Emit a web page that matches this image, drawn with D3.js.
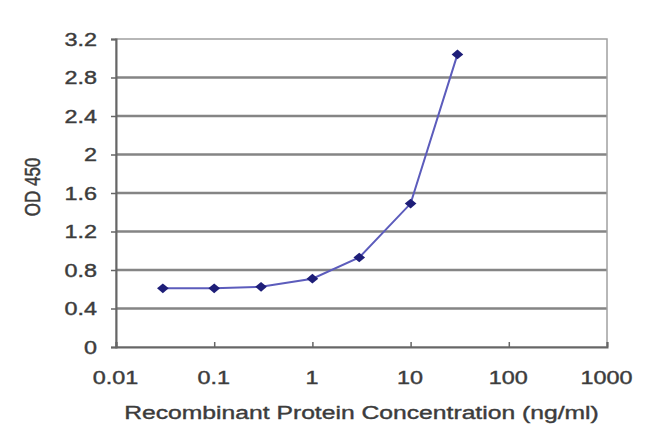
<!DOCTYPE html>
<html><head><meta charset="utf-8">
<script src="https://cdn.jsdelivr.net/npm/d3@7"></script>
<style>body{margin:0;background:#fff}svg{display:block}text{stroke:#3c3c3c;stroke-width:0.4px}</style>
</head><body><svg id="c" width="650" height="439"></svg>
<script>
const concentrations = [0.03, 0.1, 0.3, 1, 3, 10, 30];
const od450 = [0.61, 0.61, 0.625, 0.71, 0.93, 1.49, 3.04];
const yTicks = [0, 0.4, 0.8, 1.2, 1.6, 2, 2.4, 2.8, 3.2];
const xTicks = [0.01, 0.1, 1, 10, 100, 1000];
const xTitle = "Recombinant Protein Concentration (ng/ml)";
const yTitle = "OD 450";

const svg = d3.select("#c");
const L = 116, R = 607, T = 39, B = 347;
const SX = 1.3; // horizontal stretch seen in the reference text
const x = d3.scaleLog().domain([0.01, 1000]).range([L, R]);
const y = d3.scaleLinear().domain([0, 3.2]).range([B, T]);
const font = "Arial, 'Liberation Sans', sans-serif";
const txt = "#3c3c3c";

// gridlines
svg.append("g").selectAll("line").data(yTicks.filter(d => d > 0 && d < 3.2)).join("line")
  .attr("x1", L).attr("x2", R).attr("y1", d => y(d)).attr("y2", d => y(d))
  .attr("stroke", "#858585").attr("stroke-width", 2.5);

// plot border
svg.append("rect").attr("x", L).attr("y", T).attr("width", R - L).attr("height", B - T)
  .attr("fill", "none").attr("stroke", "#a0a0a0").attr("stroke-width", 1.5);

// axes
const yAxis = d3.axisLeft(y).tickValues(yTicks).tickSize(5).tickFormat(d3.format("~g"));
const gy = svg.append("g").attr("transform", `translate(${L},0)`).call(yAxis);
gy.select(".domain").attr("stroke", "#666").attr("stroke-width", 2);
gy.selectAll(".tick line").attr("stroke", "#666").attr("stroke-width", 1.5);
gy.selectAll(".tick text").attr("x", 0).attr("dy", "0.36em")
  .attr("transform", `translate(-19,0) scale(${SX},1)`).attr("fill", txt)
  .style("font-family", font).style("font-size", "18px");

const xAxis = d3.axisBottom(x).tickValues(xTicks).tickSize(-5).tickFormat(d => String(d));
const gx = svg.append("g").attr("transform", `translate(0,${B})`).call(xAxis);
gx.select(".domain").attr("stroke", "#666").attr("stroke-width", 2);
gx.selectAll(".tick line").attr("stroke", "#666").attr("stroke-width", 1.5);
gx.selectAll(".tick text").attr("y", 0).attr("dy", 0)
  .attr("transform", `translate(-1,37) scale(${SX},1)`).attr("fill", txt)
  .style("font-family", font).style("font-size", "18px");

// line
const pts = concentrations.map((c, i) => [c, od450[i]]);
svg.append("path").datum(pts)
  .attr("fill", "none").attr("stroke", "#5c5cbc").attr("stroke-width", 2)
  .attr("d", d3.line().x(d => x(d[0])).y(d => y(d[1])));

// markers
svg.append("g").selectAll("path").data(pts).join("path")
  .attr("transform", d => `translate(${x(d[0])},${y(d[1])}) scale(1.2,1)`)
  .attr("d", d3.symbol().type(d3.symbolDiamond2).size(60))
  .attr("fill", "#1e1e78");

// titles
svg.append("text").attr("transform", `translate(${(L + R) / 2},419) scale(${SX},1)`)
  .attr("text-anchor", "middle")
  .attr("fill", txt).style("font-family", font).style("font-size", "19px").text(xTitle);
svg.append("text").attr("transform", `translate(40,187) rotate(-90) scale(1,${SX})`)
  .attr("text-anchor", "middle").attr("fill", txt)
  .style("font-family", font).style("font-size", "17px").text(yTitle);
</script></body></html>
